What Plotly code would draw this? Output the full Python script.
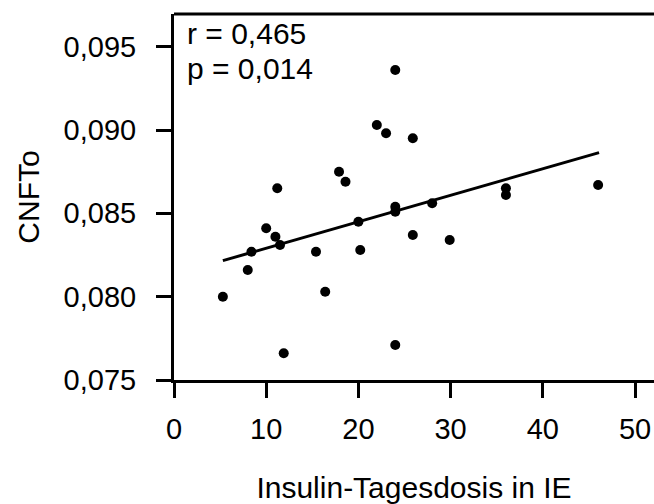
import plotly.graph_objects as go

# Data
insulin_ie = [24.0, 22.0, 23.0, 25.9, 17.9, 18.6, 11.2, 46.0, 36.0, 36.0, 28.0,
              24.0, 24.0, 20.0, 10.0, 11.0, 11.5, 8.4, 15.4, 20.2, 25.9, 29.9,
              8.0, 5.3, 16.4, 11.9, 24.0]
cnfto = [0.0936, 0.0903, 0.0898, 0.0895, 0.0875, 0.0869, 0.0865, 0.0867, 0.0865,
         0.0861, 0.0856, 0.0854, 0.0851, 0.0845, 0.0841, 0.0836, 0.0831, 0.0827,
         0.0827, 0.0828, 0.0837, 0.0834, 0.0816, 0.0800, 0.0803, 0.0766, 0.0771]
fit_x = [5.3, 46.1]
fit_y = [0.08216, 0.08864]
x_ticks = [0, 10, 20, 30, 40, 50]
y_ticks = [0.075, 0.080, 0.085, 0.090, 0.095]
stats_text = ["r = 0,465", "p = 0,014"]

FONT = "Liberation Sans, Arial, sans-serif"

fig = go.Figure()
fig.add_trace(go.Scatter(x=fit_x, y=fit_y, mode="lines",
                         line=dict(color="black", width=3), showlegend=False))
fig.add_trace(go.Scatter(x=insulin_ie, y=cnfto, mode="markers",
                         marker=dict(color="black", size=10), showlegend=False))

fig.update_layout(
    width=654, height=504,
    margin=dict(l=174, r=0, t=14, b=124),
    paper_bgcolor="white", plot_bgcolor="white",
    separators=", ",
    font=dict(family=FONT, size=29, color="black"),
    xaxis=dict(range=[0, 52.06], tickvals=x_ticks, showgrid=False, zeroline=False,
               showline=True, linecolor="black", linewidth=3,
               ticks="outside", ticklen=15, tickwidth=3, tickcolor="black",
               ticklabelstandoff=6,
               title=dict(text="Insulin-Tagesdosis in IE", font=dict(size=30), standoff=36)),
    yaxis=dict(range=[0.075, 0.09696], tickvals=y_ticks, tickformat=".3f",
               showgrid=False, zeroline=False,
               showline=True, linecolor="black", linewidth=3,
               ticks="outside", ticklen=15, tickwidth=3, tickcolor="black",
               ticklabelstandoff=14,
               title=dict(text="CNFTo", font=dict(size=30), standoff=16)),
    shapes=[dict(type="line", xref="paper", yref="paper", x0=0, x1=1, y0=1, y1=1,
                 line=dict(color="black", width=3))],
    annotations=[
        dict(text=stats_text[0], xref="paper", yref="paper", x=0.023, y=0.948,
             xanchor="left", yanchor="middle", showarrow=False, font=dict(size=30)),
        dict(text=stats_text[1], xref="paper", yref="paper", x=0.023, y=0.850,
             xanchor="left", yanchor="middle", showarrow=False, font=dict(size=30)),
    ],
)

fig.write_html("out.html")
